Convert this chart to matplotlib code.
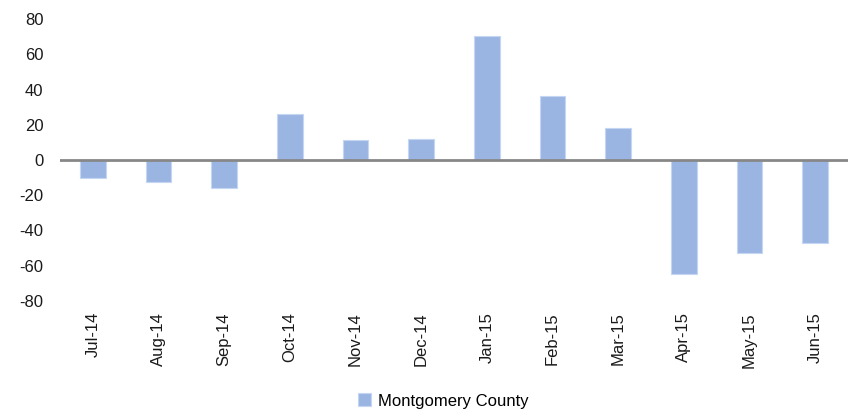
import matplotlib.pyplot as plt
import numpy as np

# monthly change, Montgomery County
months = ["Jul-14", "Aug-14", "Sep-14", "Oct-14", "Nov-14", "Dec-14",
          "Jan-15", "Feb-15", "Mar-15", "Apr-15", "May-15", "Jun-15"]
values = [-10, -12.3, -16, 26, 11.3, 12, 70.4, 36.3, 18, -64.7, -52.6, -47.3]
series_name = "Montgomery County"
yticks = [-80, -60, -40, -20, 0, 20, 40, 60, 80]

plt.rcParams['font.family'] = ['Liberation Sans', 'DejaVu Sans']

fig = plt.figure(figsize=(8.53, 4.13), dpi=100)
ax = fig.add_axes([60 / 853, 1 - 301 / 413, 788 / 853, 282 / 413])

x = np.arange(len(months))
ax.bar(x, values, width=0.39, color="#9bb5e3", edgecolor="#c5d6f2",
       linewidth=0.8, label=series_name, zorder=2)
ax.axhline(0, color="#878787", linewidth=2, zorder=3)

ax.set_xlim(-0.5, len(months) - 0.5)
ax.set_ylim(-80, 80)
ax.set_yticks(yticks)
ax.set_yticklabels([str(t) for t in yticks], fontsize=12, color="#1a1a1a")
ax.set_xticks(x)
ax.set_xticklabels(months, rotation=90, fontsize=12, color="#1a1a1a")
ax.tick_params(axis='both', length=0)
ax.tick_params(axis='y', pad=12)
ax.tick_params(axis='x', pad=8)
for s in ax.spines.values():
    s.set_visible(False)

fig.legend(loc="center", bbox_to_anchor=(443 / 853, 1 - 401 / 413),
           frameon=False, fontsize=12, handlelength=0.8, handleheight=0.8,
           handletextpad=0.4)

fig.savefig("out.png", dpi=100, facecolor="white")
